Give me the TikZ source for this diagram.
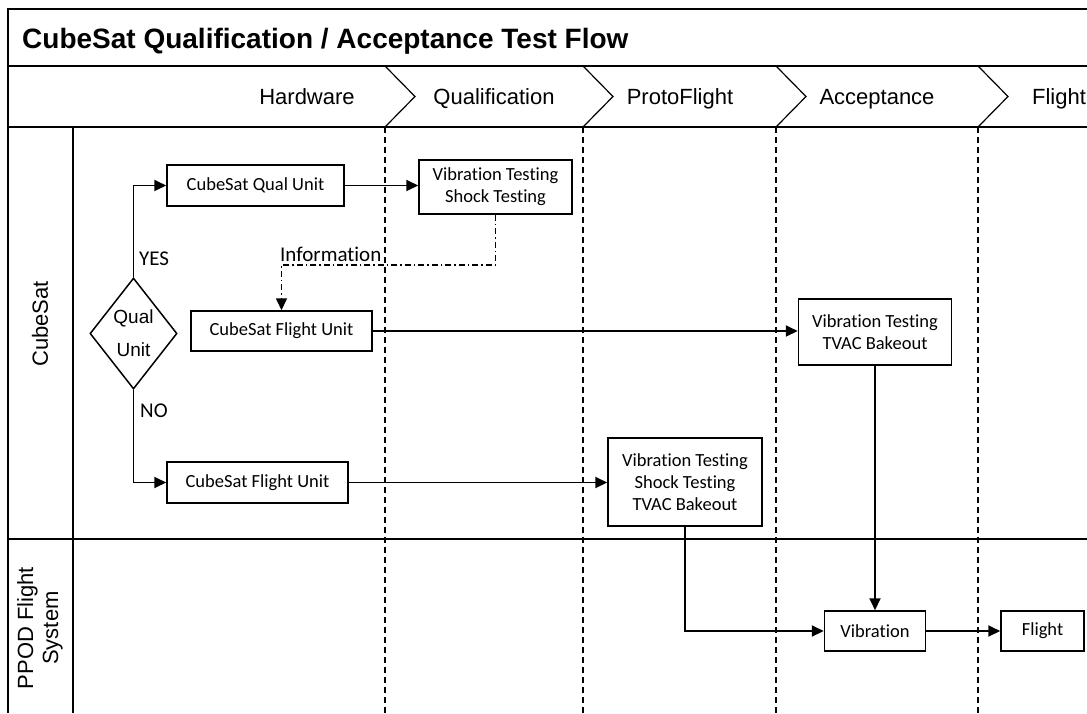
\documentclass[tikz,border=0pt]{standalone}
\usepackage{fontspec}
\setmainfont{Liberation Sans}
\newfontfamily\calfont[Ligatures=NoCommon]{Carlito}
\usetikzlibrary{shapes.geometric,arrows.meta,calc}
\begin{document}
\begin{tikzpicture}[x=1pt,y=-1pt,
  frame/.style={line width=1.5pt},
  lanesep/.style={line width=1.4pt,dash pattern=on 6pt off 4pt},
  box/.style={draw,line width=1.5pt,rectangle,inner sep=0pt,align=center,
     font=\calfont\fontsize{18.5}{22}\selectfont},
  conn/.style={line width=1.9pt,-{Triangle[length=12pt,width=11pt]}},
  info/.style={line width=1.6pt,dash pattern=on 6pt off 3pt on 1.5pt off 3pt,-{Triangle[length=12pt,width=11pt]}},
  hdr/.style={font=\fontsize{22}{26}\selectfont,anchor=base,inner sep=0pt},
  lbl/.style={font=\calfont\fontsize{21}{24}\selectfont,anchor=base west,inner sep=0pt}]
\useasboundingbox (0,0) rectangle (1087,713);
% frame
\draw[frame] (1087,9) -- (8,9) -- (8,713);
\draw[frame] (8,66) -- (1087,66);
\draw[frame] (8,127) -- (1087,127);
\draw[frame] (73,127) -- (73,713);
\draw[frame] (8,539) -- (1087,539);
% title
\node[anchor=base west,inner sep=0pt,font=\bfseries\fontsize{28}{32}\selectfont] (title) at (22,48) {CubeSat Qualification / Acceptance Test Flow};
% header chevrons and lanes
\foreach \x in {385,583,776,978}{
  \draw[frame,line width=1.2pt] (\x,66) -- (\x+30,96.5) -- (\x,127);
  \draw[lanesep] (\x,127) -- (\x,713);
}
\node[hdr] (hHw) at (307,104.5) {Hardware};
\node[hdr] (hQu) at (494,104.5) {Qualification};
\node[hdr] (hPf) at (680,104.5) {ProtoFlight};
\node[hdr] (hAc) at (877,104.5) {Acceptance};
\node[hdr] (hFl) at (1059,104.5) {Flight};
% lane labels
\node[rotate=90,font=\fontsize{22}{26}\selectfont,inner sep=0pt] (lCube) at (40,324) {CubeSat};
\node[rotate=90,font=\fontsize{22}{25}\selectfont,inner sep=0pt,align=center] (lPpod) at (40,628) {PPOD Flight\\System};
% nodes
\node[draw,diamond,line width=1.5pt,minimum width=75pt,minimum height=111pt,inner sep=0pt,align=center,
  font=\fontsize{19}{33}\selectfont] (dq) at (133.5,333.5) {Qual\\Unit};
\node[box,minimum width=177pt,minimum height=41pt] (qual) at (255.5,185.5) {CubeSat Qual Unit};
\node[box,minimum width=153pt,minimum height=54pt] (vs1) at (495.5,187) {Vibration Testing\\Shock Testing};
\node[box,minimum width=181pt,minimum height=40pt] (fu1) at (281.5,331) {CubeSat Flight Unit};
\node[box,minimum width=153pt,minimum height=66pt] (acc) at (875,332) {Vibration Testing\\TVAC Bakeout};
\node[box,minimum width=181pt,minimum height=41pt] (fu2) at (257.5,482.5) {CubeSat Flight Unit};
\node[box,minimum width=154pt,minimum height=88pt] (pf) at (685,482) {Vibration Testing\\Shock Testing\\TVAC Bakeout};
\node[box,minimum width=101pt,minimum height=40pt] (vib) at (875,631) {Vibration};
\node[box,minimum width=83pt,minimum height=40pt] (fl) at (1042.5,631) {Flight};
% connectors
\draw[conn] (dq.north) |- (qual.west);
\draw[conn] (dq.south) |- (fu2.west);
\draw[conn] (qual.east) -- (qual.east -| vs1.west);
\draw[conn] (fu1.east) -- (fu1.east -| acc.west);
\draw[conn] (fu2.east) -- (fu2.east -| pf.west);
\draw[conn] (pf.south) |- (vib.west);
\draw[conn] (acc.south) -- (vib.north);
\draw[conn] (vib.east) -- (fl.west);
\coordinate (ic) at (281.5,265);
\draw[info] (vs1.south) |- (ic) -- (fu1.north);
% labels
\node[lbl] (yes) at (139,265) {YES};
\node[lbl] (no) at (140,417) {NO};
\node[lbl] (inf) at (280,261.5) {Information};
\end{tikzpicture}
\end{document}
